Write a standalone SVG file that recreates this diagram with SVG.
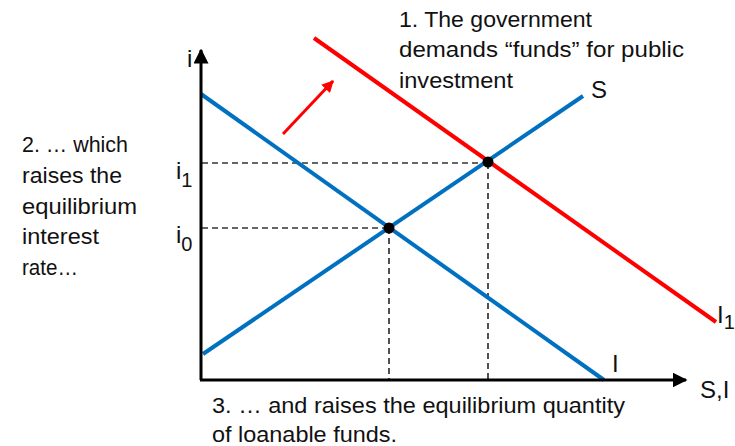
<svg xmlns="http://www.w3.org/2000/svg" width="735" height="446" viewBox="0 0 735 446">
<style>
text{font-family:"Liberation Sans",Arial,sans-serif;fill:#111;}
.t{font-size:22px;}
.lab{font-size:24px;}
.sub{font-size:20px;}
.ax{stroke:#000;stroke-width:3;fill:none;}
.blue{stroke:#0070C0;stroke-width:4;fill:none;}
.red{stroke:#FF0000;stroke-width:4;fill:none;}
.dash{stroke:#333;stroke-width:1.7;stroke-dasharray:6,4;fill:none;}
</style>
<defs>
<marker id="ah" viewBox="0 0 10 10" refX="9" refY="5" markerWidth="5" markerHeight="5" orient="auto" markerUnits="strokeWidth"><path d="M0,0 L10,5 L0,10 z" fill="#000"/></marker>
<marker id="rh" viewBox="0 0 10 10" refX="9" refY="5" markerWidth="4" markerHeight="4" orient="auto" markerUnits="strokeWidth"><path d="M0,0 L10,5 L0,10 z" fill="#FF0000"/></marker>
</defs>
<g id="connectors">
<line class="dash" x1="202" y1="163" x2="488" y2="163"/>
<line class="dash" x1="202" y1="228" x2="389" y2="228"/>
<line class="dash" x1="389" y1="228" x2="389" y2="379"/>
<line class="dash" x1="488" y1="163" x2="488" y2="379"/>
<line id="curve-I" class="blue" x1="201" y1="94" x2="604" y2="380"/>
<line id="curve-S" class="blue" x1="203" y1="354" x2="583" y2="96"/>
<line id="curve-I1" class="red" x1="314" y1="38" x2="716" y2="322"/>
<line id="shift-arrow" stroke="#FF0000" stroke-width="3" x1="283" y1="134" x2="333" y2="81" marker-end="url(#rh)"/>
<line class="ax" x1="201" y1="380" x2="201" y2="50" marker-end="url(#ah)"/>
<line class="ax" x1="200" y1="380" x2="686" y2="380" marker-end="url(#ah)"/>
</g>
<g id="eq0"><circle cx="389" cy="228" r="5.5" fill="#000"/></g>
<g id="eq1"><circle cx="488" cy="162" r="5.5" fill="#000"/></g>
<g id="axis-labels">
<text class="lab" x="187" y="67">i</text>
<text class="lab" x="700" y="398">S,I</text>
<text class="lab" x="176" y="179">i<tspan class="sub" dy="8">1</tspan></text>
<text class="lab" x="176" y="243">i<tspan class="sub" dy="8">0</tspan></text>
<text class="lab" x="591" y="98">S</text>
<text class="lab" x="612" y="372">I</text>
<text class="lab" x="717" y="323">I<tspan class="sub" dy="6">1</tspan></text>
</g>
<g id="note1">
<text class="t" x="399" y="27" textLength="193" lengthAdjust="spacingAndGlyphs">1. The government</text>
<text class="t" x="399" y="57" textLength="285" lengthAdjust="spacingAndGlyphs">demands “funds” for public</text>
<text class="t" x="399" y="88" textLength="114" lengthAdjust="spacingAndGlyphs">investment</text>
</g>
<g id="note2">
<text class="t" x="22" y="152" textLength="106" lengthAdjust="spacingAndGlyphs">2. … which</text>
<text class="t" x="22" y="183" textLength="100" lengthAdjust="spacingAndGlyphs">raises the</text>
<text class="t" x="22" y="214" textLength="115" lengthAdjust="spacingAndGlyphs">equilibrium</text>
<text class="t" x="22" y="244" textLength="77" lengthAdjust="spacingAndGlyphs">interest</text>
<text class="t" x="22" y="275" textLength="56" lengthAdjust="spacingAndGlyphs">rate…</text>
</g>
<g id="note3">
<text class="t" x="212" y="413" textLength="413" lengthAdjust="spacingAndGlyphs">3. … and raises the equilibrium quantity</text>
<text class="t" x="212" y="442" textLength="185" lengthAdjust="spacingAndGlyphs">of loanable funds.</text>
</g>
</svg>
